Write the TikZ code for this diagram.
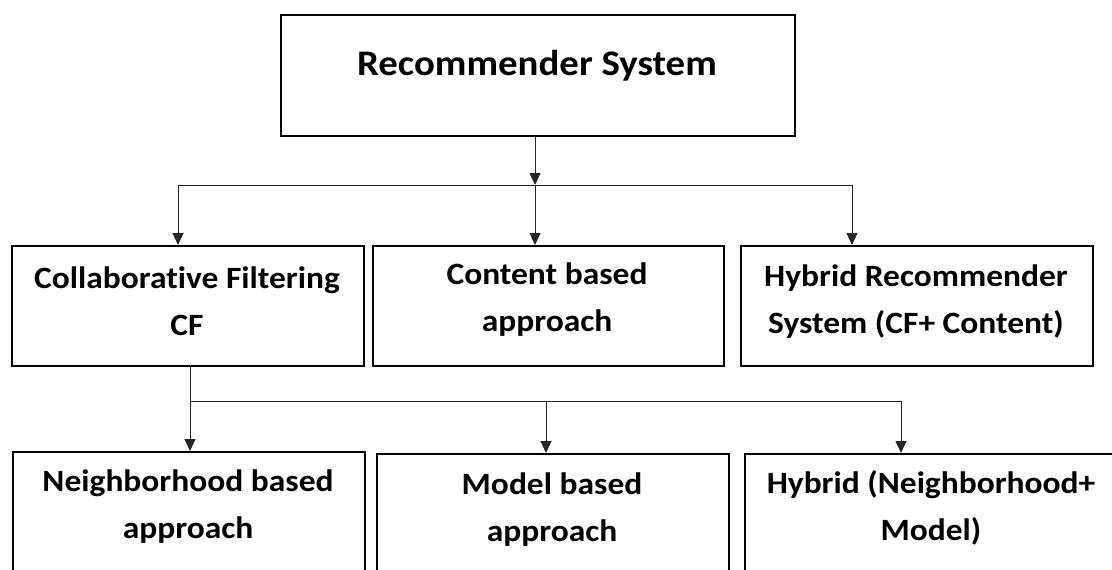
\documentclass[tikz,border=0pt]{standalone}
\usepackage{fontspec}
\setmainfont{Carlito}
\newfontfamily\boxfont[FakeStretch=1.08,RawFeature={-liga;-clig;-calt;-dlig}]{Carlito}
\usetikzlibrary{arrows.meta,calc}
\begin{document}
\begin{tikzpicture}[x=1pt,y=-1pt,
  box/.style={draw=black,line width=1.8pt,rectangle,inner sep=0pt,anchor=north west},
  txt/.style={align=center,inner sep=0pt,font=\boxfont\bfseries\fontsize{31}{47}\selectfont},
  bigtxt/.style={inner sep=0pt,font=\boxfont\bfseries\fontsize{36}{44}\selectfont},
  conn/.style={line width=0.9pt,draw=black!85},
  arr/.style={conn,-{Triangle[length=12pt,width=11pt]}}]
\clip (0,0) rectangle (1112,570);
% boxes
\node[box,minimum width=514pt,minimum height=121pt] (rs) at (280,14) {};
\node[box,minimum width=352pt,minimum height=120pt] (cf) at (11,245) {};
\node[box,minimum width=351pt,minimum height=120pt] (cb) at (372,245) {};
\node[box,minimum width=352pt,minimum height=120pt] (hy) at (740,245) {};
\node[box,minimum width=352pt,minimum height=200pt] (nb) at (12,451) {};
\node[box,minimum width=352pt,minimum height=200pt] (mb) at (376,453) {};
\node[box,minimum width=376pt,minimum height=200pt] (hn) at (744,453) {};
% texts
\node[bigtxt,anchor=base] (rst) at (537,75) {Recommender System};
\node[txt,anchor=base] (cft) at (187,335) {Collaborative Filtering\\CF};
\node[txt,anchor=base] (cbt) at (547,331) {Content based\\approach};
\node[txt,anchor=base] (hyt) at (916,333) {Hybrid Recommender\\System (CF+ Content)};
\node[txt,anchor=base] (nbt) at (188,538) {Neighborhood based\\approach};
\node[txt,anchor=base] (mbt) at (552,541) {Model based\\approach};
\node[txt,anchor=base] (hnt) at (931,540) {Hybrid (Neighborhood+\\Model)};
% junctions
\coordinate (j1) at (535,185);
\coordinate (jl) at (178,185);
\coordinate (jr) at (852,185);
\coordinate (k0) at (190,401);
\coordinate (k1) at (546,401);
\coordinate (k2) at (901,401);
% connectors level 1
\draw[arr] (rs.south -| j1) -- (j1);
\draw[conn] (jl) -- (jr);
\draw[arr] (j1) -- (j1 |- cb.north);
\draw[arr] (jl) -- (jl |- cf.north);
\draw[arr] (jr) -- (jr |- hy.north);
% connectors level 2
\draw[arr] (cf.south -| k0) -- (k0 |- nb.north);
\draw[conn] (k0) -- (k2);
\draw[arr] (k1) -- (k1 |- mb.north);
\draw[arr] (k2) -- (k2 |- hn.north);
\end{tikzpicture}
\end{document}
